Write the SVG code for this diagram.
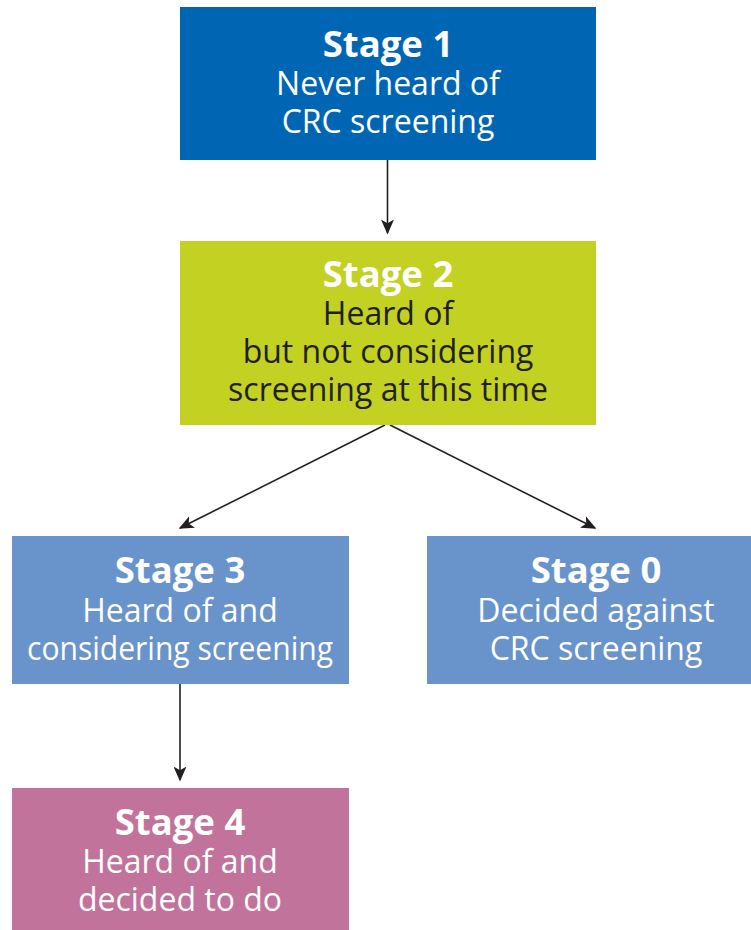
<svg xmlns="http://www.w3.org/2000/svg" width="751" height="930" viewBox="0 0 751 930">
<defs>
<style>
.t{font-family:"Open Sans","Liberation Sans",sans-serif;font-size:32px;text-anchor:middle;fill:#ffffff}
.b{font-weight:bold;font-size:36.5px}
.dark{fill:#231f20}
.c{stroke:#231f20;stroke-width:1.6;fill:none;marker-end:url(#ah)}
</style>
<marker id="ah" viewBox="0 0 10 10" refX="9" refY="5" markerWidth="15" markerHeight="13" markerUnits="userSpaceOnUse" orient="auto" preserveAspectRatio="none">
<path d="M0,0 L10,5 L0,10 L2.5,5 Z" fill="#231f20"/>
</marker>
</defs>
<rect width="751" height="930" fill="#ffffff"/>
<g id="connectors">
<line class="c" x1="387.5" y1="160" x2="387.5" y2="233"/>
<line class="c" x1="385" y1="425" x2="180" y2="528"/>
<line class="c" x1="390" y1="425" x2="595" y2="528"/>
<line class="c" x1="180" y1="684" x2="180" y2="780"/>
</g>
<g id="stage1">
<rect x="180" y="7" width="416" height="153" fill="#0066b3"/>
<text class="t b" x="388" y="57">Stage 1</text>
<text class="t" x="388" y="95">Never heard of</text>
<text class="t" x="388" y="133">CRC screening</text>
</g>
<g id="stage2">
<rect x="180" y="241" width="416" height="184" fill="#c2d122"/>
<text class="t b" x="388" y="287">Stage 2</text>
<text class="t dark" x="388" y="325">Heard of</text>
<text class="t dark" x="388" y="363">but not considering</text>
<text class="t dark" x="388" y="401">screening at this time</text>
</g>
<g id="stage3">
<rect x="12" y="536" width="337" height="148" fill="#6893cb"/>
<text class="t b" x="180" y="583">Stage 3</text>
<text class="t" x="180" y="622">Heard of and</text>
<text class="t" x="180" y="660" textLength="306" lengthAdjust="spacingAndGlyphs">considering screening</text>
</g>
<g id="stage0">
<rect x="427" y="536" width="324" height="148" fill="#6893cb"/>
<text class="t b" x="596" y="583">Stage 0</text>
<text class="t" x="596" y="622">Decided against</text>
<text class="t" x="596" y="660">CRC screening</text>
</g>
<g id="stage4">
<rect x="12" y="788" width="337" height="142" fill="#c1739b"/>
<text class="t b" x="180" y="835">Stage 4</text>
<text class="t" x="180" y="873">Heard of and</text>
<text class="t" x="180" y="911">decided to do</text>
</g>
</svg>
